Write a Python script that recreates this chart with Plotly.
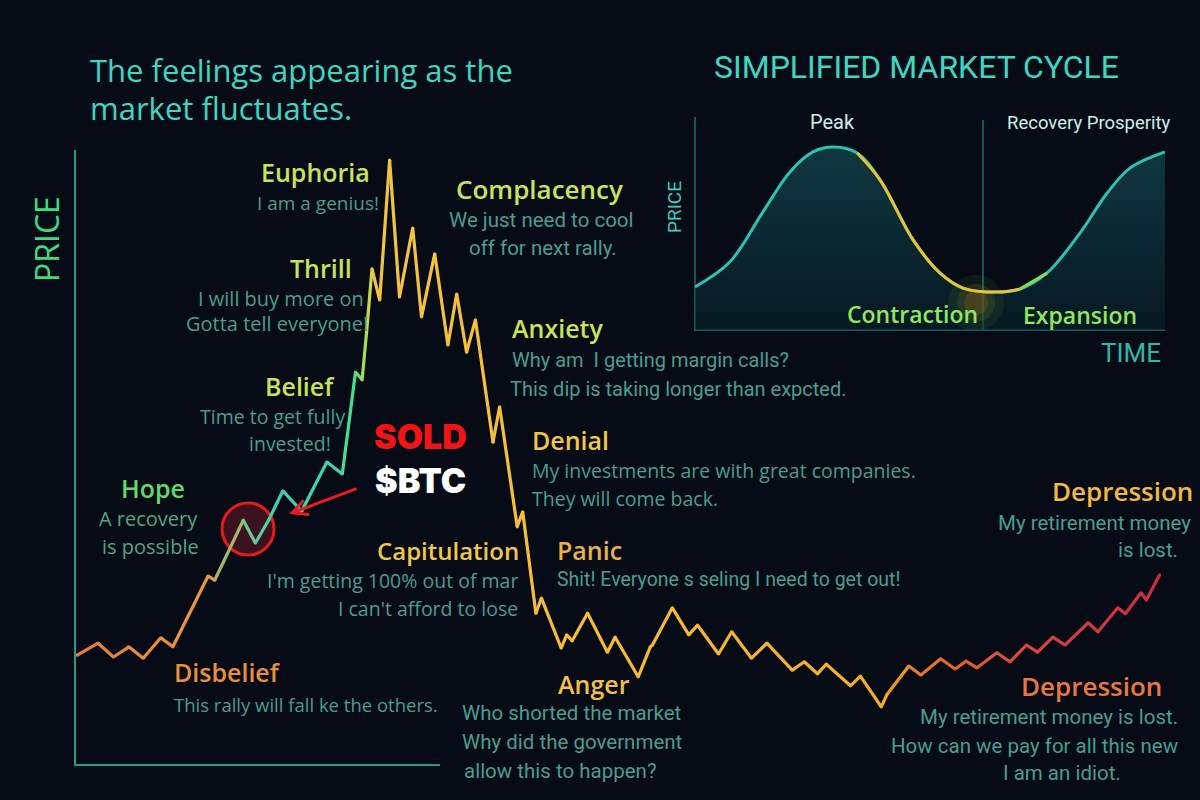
import plotly.graph_objects as go

W, H = 1200, 800

# ---------------- data: emotional market cycle (time, price) ----------------
time = [0.2, 2.1, 3.5, 4.9, 6.2, 7.8, 8.9, 12.1, 12.7, 15.3,
        16.4, 17.6, 18.9, 20.6, 22.9, 24.3, 25.5, 26.1, 26.5, 27.0,
        27.7, 28.6, 29.5, 30.7, 31.5, 32.7, 33.9, 34.7, 35.6, 36.4,
        38.0, 38.6, 40.2, 40.7, 41.9, 42.4, 44.2, 44.7, 45.2, 46.6,
        48.4, 49.1, 51.2, 52.3, 52.5, 54.3, 55.8, 56.6, 58.5, 59.7,
        61.5, 62.9, 65.2, 66.3, 67.5, 68.3, 70.5, 71.4, 73.3, 73.8,
        75.8, 76.9, 78.7, 80.0, 81.0, 82.0, 83.8, 85.0, 86.5, 87.5,
        88.9, 90.0, 92.1, 93.0, 94.8, 95.5, 96.9, 97.4, 98.6]
price = [18.3, 20.3, 18.0, 19.7, 17.8, 21.2, 19.7, 31.5, 30.8, 40.8,
         37.0, 40.8, 45.7, 42.3, 50.5, 48.5, 65.5, 64.2, 72.0, 82.7,
         77.5, 100.8, 78.0, 89.5, 74.7, 85.2, 70.0, 78.5, 68.8, 74.2,
         53.8, 59.7, 39.7, 42.2, 25.3, 27.8, 19.5, 21.7, 20.7, 25.3,
         18.8, 21.3, 14.7, 19.7, 20.0, 26.2, 21.7, 23.3, 18.5, 22.2,
         17.8, 20.3, 15.8, 17.2, 15.2, 16.8, 13.2, 14.8, 9.7, 11.7,
         16.5, 15.0, 17.7, 16.0, 17.3, 16.2, 18.7, 17.2, 20.0, 18.8,
         21.3, 20.0, 23.7, 22.2, 26.2, 25.2, 28.7, 27.5, 31.7]

# ---------------- data: simplified market cycle inset ----------------
cyc_time = [0, 7.4, 14.3, 20.2, 25.1, 29.4, 34.5, 39.4, 46.4, 52.1,
            57.0, 64.3, 69.1, 74.9, 81.9, 87.7, 92.6, 100]
cyc_price = [20.2, 31.9, 54.9, 74.2, 83.6, 85.9, 83.1, 70.4, 42.3, 26.8,
             19.7, 17.8, 19.2, 26.8, 45.5, 64.3, 76.1, 83.6]

# colour stops along the time axis for the main line
stops = [(0, "#e47a38"), (12, "#ec9a40"), (15.3, "#74c88c"), (18.5, "#3fd0b2"),
         (24.3, "#40d8a6"), (25.6, "#55dc7c"), (26.5, "#b8e04c"), (27.3, "#f3c443"),
         (45, "#f5bd38"), (73.3, "#f2b02a"), (76, "#e8802c"), (80, "#e2622e"),
         (88, "#d8443a"), (99, "#c92a44")]


def hx(c):
    c = c.lstrip("#")
    return [int(c[i:i + 2], 16) for i in (0, 2, 4)]


def color_at(t):
    for (t0, c0), (t1, c1) in zip(stops[:-1], stops[1:]):
        if t0 <= t <= t1:
            f = (t - t0) / (t1 - t0)
            a, b = hx(c0), hx(c1)
            r = [round(a[i] + (b[i] - a[i]) * f) for i in range(3)]
            return "rgb(%d,%d,%d)" % tuple(r)
    return stops[-1][1]


fig = go.Figure()

# main line as coloured segments
for i in range(len(time) - 1):
    fig.add_trace(go.Scatter(
        x=time[i:i + 2], y=price[i:i + 2], mode="lines",
        line=dict(color=color_at((time[i] + time[i + 1]) / 2), width=3.2),
        hoverinfo="skip", xaxis="x", yaxis="y"))
fig.add_trace(go.Scatter(
    x=time, y=price, mode="markers",
    marker=dict(size=3.2, color=[color_at(t) for t in time], line=dict(width=0)),
    hoverinfo="skip", xaxis="x", yaxis="y"))

# inset curve: filled teal base
fig.add_trace(go.Scatter(
    x=cyc_time, y=cyc_price, mode="lines", line=dict(color="#2cc3b0", width=3, shape="spline"),
    fill="tozeroy",
    fillgradient=dict(type="vertical",
                      colorscale=[[0, "rgba(8,35,45,0.55)"], [1, "rgba(22,92,100,0.55)"]]),
    hoverinfo="skip", xaxis="x2", yaxis="y2"))

# inset: soft glow under the trough
gx, gy = cyc_time[11] - 4.5, cyc_price[11] - 5
for sz, col in [(56, "rgba(90,170,50,0.10)"), (38, "rgba(150,130,30,0.16)"),
                (24, "rgba(200,100,20,0.22)")]:
    fig.add_trace(go.Scatter(x=[gx], y=[gy], mode="markers",
                             marker=dict(size=sz, color=col, line=dict(width=0)),
                             hoverinfo="skip", xaxis="x2", yaxis="y2"))

# contraction part in gold, turning green after the trough
fig.add_trace(go.Scatter(
    x=cyc_time[6:13], y=cyc_price[6:13], mode="lines",
    line=dict(color="#e9c236", width=3, shape="spline"),
    hoverinfo="skip", xaxis="x2", yaxis="y2"))
fig.add_trace(go.Scatter(
    x=cyc_time[12:14], y=cyc_price[12:14], mode="lines",
    line=dict(color="#8fd84c", width=3, shape="spline"),
    hoverinfo="skip", xaxis="x2", yaxis="y2"))


def P(x, y):
    return x / W, 1 - y / H


ann = []


def label(text, x, y, size, color, family="Open Sans", xanchor="center", weight=400, angle=0):
    px, py = P(x, y)
    ann.append(dict(text=text, x=px, y=py, xref="paper", yref="paper", xanchor=xanchor,
                    yanchor="middle", showarrow=False, textangle=angle,
                    font=dict(family=family, size=size, color=color, weight=weight)))


TITLE = "#3fd6c2"
HEAD = "#c8e25c"
GOLD = "#f0c64c"
SUB = "#4b9f8a"
SUB2 = "#4a9e90"

label("The feelings appearing as the", 88, 70, 31, TITLE, xanchor="left")
label("market fluctuates.", 88, 108, 31, TITLE, xanchor="left")
label("PRICE", 46, 239, 32, "#3cdc84", angle=-90)

label("Euphoria", 315, 172, 25, HEAD, weight=600)
label("I am a genius!", 318, 203, 19, SUB)
label("Thrill", 321, 268, 25, HEAD, weight=600)
label("I will buy more on", 366, 298, 20, SUB, xanchor="right")
label("Gotta tell everyone!", 370, 323, 20, SUB, xanchor="right")
label("Belief", 300, 386, 25, HEAD, weight=600)
label("Time to get fully", 347, 416, 19.5, SUB, xanchor="right")
label("invested!", 333, 443, 19.5, SUB, xanchor="right")
label("Hope", 153, 488, 25, "#62d86c", weight=600)
label("A recovery", 148, 518, 20, "#4fa982")
label("is possible", 150, 546, 20, "#4fa982")
label("Disbelief", 172, 672, 25, "#e8903c", xanchor="left", weight=600)
label("This rally will fall ke the others.", 172, 704, 18.5, SUB, xanchor="left")
label("Complacency", 539, 189, 26, HEAD, weight=600)
label("We just need to cool", 541, 220, 20.5, SUB2, family="Roboto")
label("off for next rally.", 543, 248, 20.5, SUB2, family="Roboto")
label("Anxiety", 510, 328, 25, HEAD, xanchor="left", weight=600)
label("Why am  I getting margin calls?", 510, 360, 20, SUB2, family="Roboto", xanchor="left")
label("This dip is taking longer than expcted.", 508, 389, 20, SUB2, family="Roboto", xanchor="left")
label("Denial", 530, 440, 25, GOLD, xanchor="left", weight=600)
label("My investments are with great companies.", 530, 470, 19.5, SUB2, xanchor="left")
label("They will come back.", 530, 498, 19.5, SUB2, xanchor="left")
label("Capitulation", 448, 550, 24, GOLD, weight=600)
label("I'm getting 100% out of mar", 520, 580, 19.5, SUB2, xanchor="right")
label("I can't afford to lose", 520, 608, 19.5, SUB2, xanchor="right")
label("Panic", 555, 550, 25, "#eab04a", xanchor="left", weight=600)
label("Shit! Everyone s seling I need to get out!", 555, 579, 19.5, SUB2, family="Roboto", xanchor="left")
label("Anger", 594, 684, 25, "#f0c04a", weight=600)
label("Who shorted the market", 460, 713, 20.5, SUB2, family="Roboto", xanchor="left")
label("Why did the government", 460, 742, 20.5, SUB2, family="Roboto", xanchor="left")
label("allow this to happen?", 462, 771, 20.5, SUB2, family="Roboto", xanchor="left")
label("Depression", 1122, 491, 26, "#f0b844", weight=600)
label("My retirement money", 1193, 523, 20.5, SUB2, family="Roboto", xanchor="right")
label("is lost.", 1180, 550, 20.5, SUB2, family="Roboto", xanchor="right")
label("Depression", 1091, 686, 26, "#e87840", weight=600)
label("My retirement money is lost.", 1180, 717, 20.5, SUB2, family="Roboto", xanchor="right")
label("How can we pay for all this new", 1180, 746, 20.5, SUB2, family="Roboto", xanchor="right")
label("I am an idiot.", 1062, 773, 20.5, SUB2, family="Roboto")

label("SOLD", 420, 436, 34, "#f01414", family="Inter", weight=900)
label("$BTC", 420, 481, 34, "#ffffff", family="Inter", weight=900)

# inset labels
label("SIMPLIFIED MARKET CYCLE", 916, 67, 32, TITLE, family="Roboto")
label("Peak", 832, 122, 20, "#d0eee8", family="Roboto")
label("Recovery Prosperity", 1089, 123, 18.5, "#d0eee8", family="Roboto")
label("PRICE", 674, 207, 19, "#3fd0c0", family="Roboto", angle=-90)
label("Contraction", 912, 314, 23, "#8de860", weight=600)
label("Expansion", 1080, 315, 23, "#8de860", weight=600)
label("TIME", 1131, 353, 26, "#2fb8a8", family="Roboto")

# sold arrow
tx, ty = P(289, 514)
ann.append(dict(x=tx, y=ty, xref="paper", yref="paper", text="", showarrow=True,
                ax=69, ay=-26, arrowhead=5, arrowsize=1, arrowwidth=3, arrowcolor="#e81c1c"))

shapes = []


def seg(x0, y0, x1, y1, color, width):
    a, b = P(x0, y0)
    c, d = P(x1, y1)
    shapes.append(dict(type="line", xref="paper", yref="paper", x0=a, y0=b, x1=c, y1=d,
                       line=dict(color=color, width=width), layer="below"))


# main axes
seg(75, 150, 75, 766, "#1e9c84", 2)
seg(74, 765, 440, 765, "#1e9c84", 2)
# inset axes
seg(695, 117, 695, 331, "#1d6f6c", 1.5)
seg(694, 330, 1165, 330, "#1d6f6c", 1.5)
seg(983, 120, 983, 330, "#1d6f6c", 1.5)

# sold circle
a, b = P(222, 555)
c, d = P(274, 503)
shapes.append(dict(type="circle", xref="paper", yref="paper", x0=a, y0=b, x1=c, y1=d,
                   fillcolor="rgba(70,20,32,0.85)", line=dict(color="#e31b1b", width=3),
                   layer="below"))

fig.update_layout(
    width=W, height=H, margin=dict(l=0, r=0, t=0, b=0),
    paper_bgcolor="#060b16", plot_bgcolor="rgba(0,0,0,0)",
    showlegend=False, hovermode=False,
    xaxis=dict(domain=[0, 1], range=[(0 - 75) / 11, (W - 75) / 11], visible=False, fixedrange=True),
    yaxis=dict(domain=[0, 1], range=[(765 - H) / 6, 765 / 6], visible=False, fixedrange=True),
    xaxis2=dict(domain=[695 / W, 1165 / W], range=[0, 100], visible=False, anchor="y2"),
    yaxis2=dict(domain=[(H - 330) / H, (H - 117) / H], range=[0, 100], visible=False, anchor="x2"),
    annotations=ann, shapes=shapes,
)

fig.write_html("out.html")
